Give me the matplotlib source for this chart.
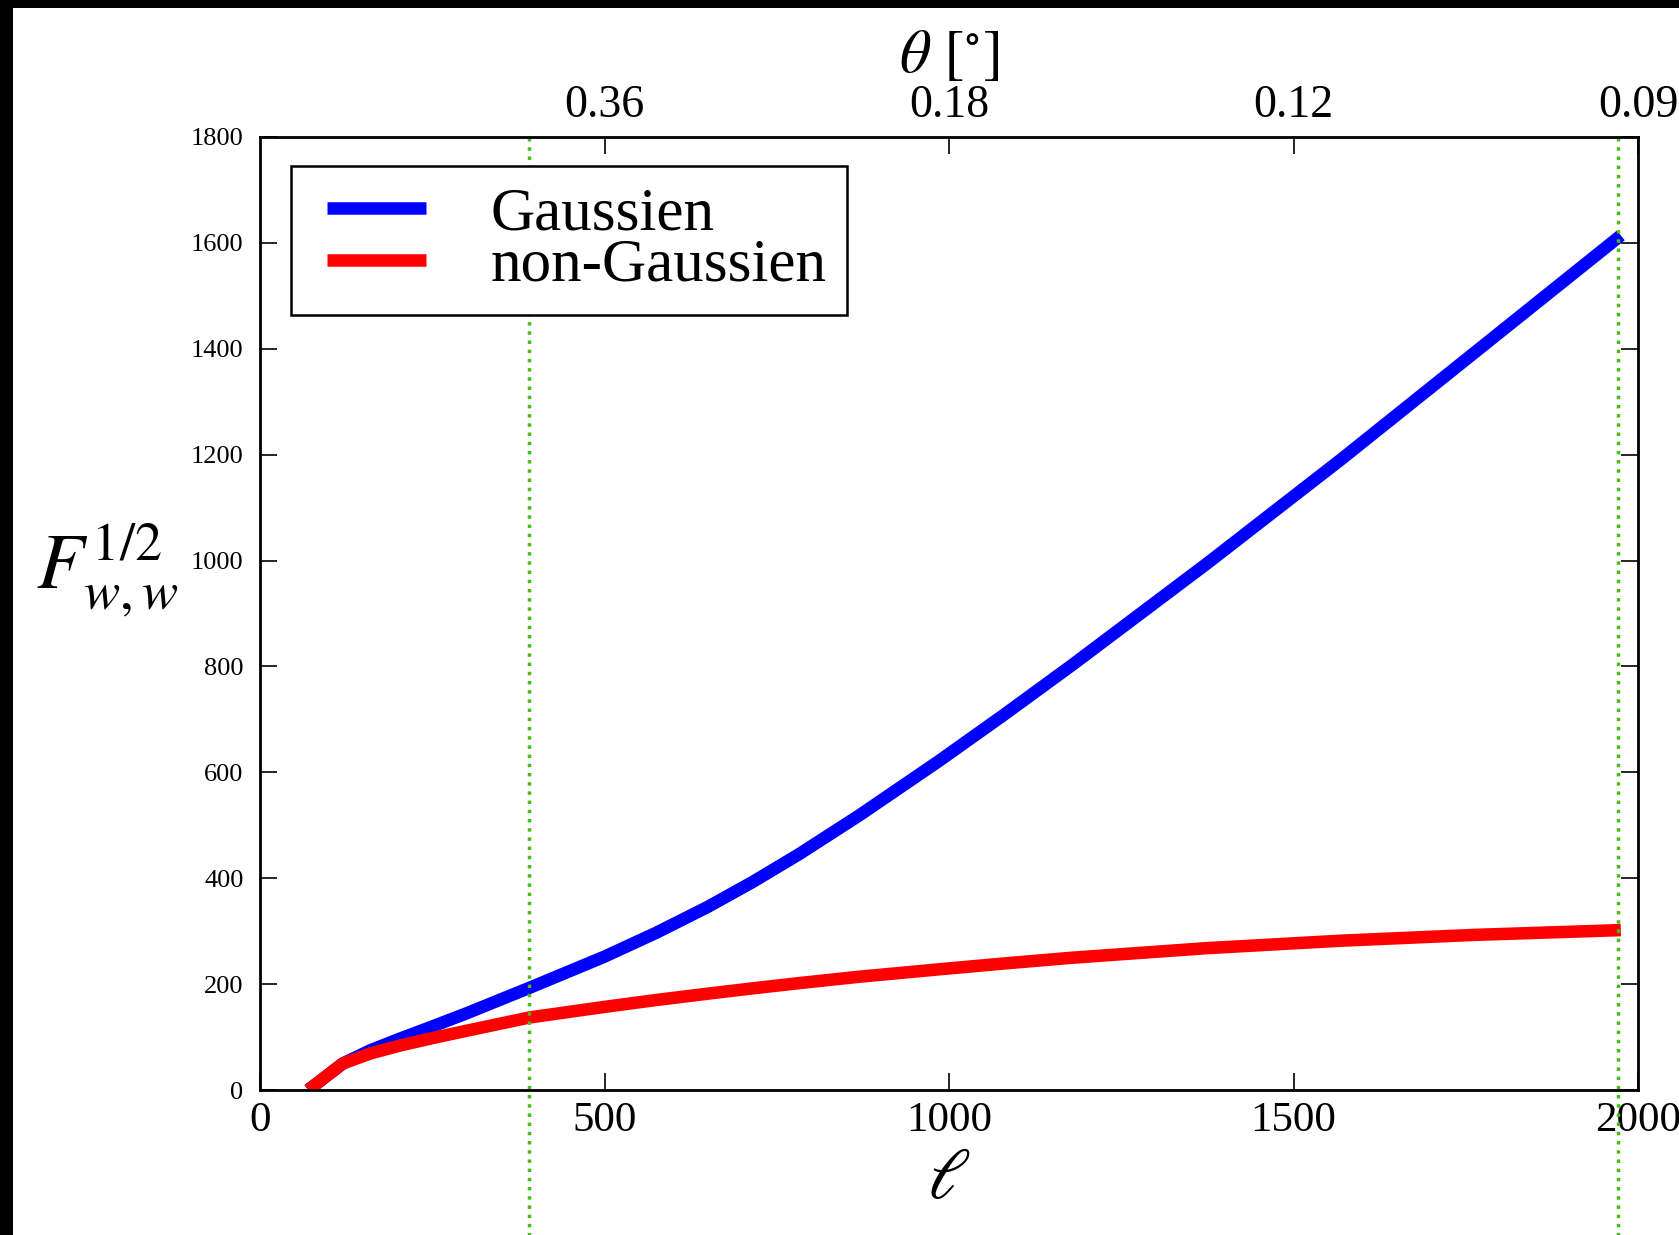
"""
Fisher information F^{1/2}_{w,w} against multipole, Gaussian vs non-Gaussian.
"""

import matplotlib
matplotlib.use("Agg")
import matplotlib.pyplot as plt
from matplotlib.patches import Rectangle
from matplotlib.legend_handler import HandlerLine2D

ell = [70, 120, 160, 203, 250, 300, 391, 500, 575, 650, 715, 783, 870, 986, 1080,
       1180, 1375, 1569, 1763, 1975]
F_gauss = [0, 50, 75, 97, 120, 145, 193, 252, 297, 346, 393, 446, 519, 622, 709,
           804, 995, 1191, 1393, 1614]
F_nongauss = [0, 50, 69, 84, 98, 112, 137, 157, 170, 182, 192, 202, 214, 228, 239,
              250, 268, 282, 293, 302]

labels = ["Gaussien", "non-Gaussien"]
colors = ["#0000ff", "#ff0000"]

# survey limits (green dotted lines)
ell_limits = [391, 1971]

# top axis: angular scale
theta_ticks_ell = [500, 1000, 1500, 2000]
theta_labels = ["0.36", "0.18", "0.12", "0.09"]

x_ticks = [0, 500, 1000, 1500, 2000]
y_ticks = [0, 200, 400, 600, 800, 1000, 1200, 1400, 1600, 1800]


def main():
    plt.rcParams["font.family"] = ["Liberation Serif", "DejaVu Serif"]
    plt.rcParams["mathtext.fontset"] = "stix"

    fig = plt.figure(figsize=(16.79, 12.35), dpi=100)
    ax = fig.add_axes([0.1549, 0.1174, 0.8207, 0.7717])

    # black border of the scanned figure
    fig.patches.append(Rectangle((0, 1 - 8 / 1235), 1, 8 / 1235, transform=fig.transFigure,
                                 facecolor="black", edgecolor="none", zorder=10))
    fig.patches.append(Rectangle((0, 0), 13 / 1679, 1, transform=fig.transFigure,
                                 facecolor="black", edgecolor="none", zorder=10))

    ax.plot(ell, F_gauss, color=colors[0], lw=9, solid_capstyle="butt", label=labels[0])
    ax.plot(ell, F_nongauss, color=colors[1], lw=9, solid_capstyle="butt", label=labels[1])

    for l in ell_limits:
        ax.axvline(l, ymin=-0.16, ymax=1, color="#4cbb17", ls=":", lw=2.5, clip_on=False)

    ax.set_xlim(0, 2000)
    ax.set_ylim(0, 1800)
    ax.set_xticks(x_ticks)
    ax.set_yticks(y_ticks)
    ax.tick_params(axis="x", labelsize=31, direction="in", length=12, width=1.2, pad=8)
    ax.tick_params(axis="y", labelsize=19, direction="in", length=12, width=1.2, pad=12,
                   right=True)
    for s in ax.spines.values():
        s.set_linewidth(2)

    ax.set_xlabel(r"$\ell$", fontsize=52, labelpad=6)
    ax.set_ylabel(r"$F^{1/2}_{w,w}$", fontsize=56, rotation=0, labelpad=0)
    ax.yaxis.label.set_va("center")
    ax.yaxis.set_label_coords(-0.111, 0.545)

    top = ax.twiny()
    top.set_xlim(ax.get_xlim())
    top.set_xticks(theta_ticks_ell)
    top.set_xticklabels(theta_labels)
    top.tick_params(axis="x", labelsize=33, direction="in", length=12, width=1.2, pad=7)
    top.set_xlabel(r"$\theta\ [^{\circ}]$", fontsize=44, labelpad=9)

    leg = ax.legend(loc="upper left", bbox_to_anchor=(0.0225, 0.9696), borderaxespad=0,
                    fontsize=44, handlelength=1.87, handletextpad=1.05, borderpad=0.34,
                    labelspacing=-0.07, fancybox=False, framealpha=1,
                    handler_map={plt.Line2D: HandlerLine2D(xpad=0.24)})
    leg.get_frame().set_edgecolor("black")
    leg.get_frame().set_linewidth(1.8)

    fig.savefig("out.png", dpi=100)


if __name__ == "__main__":
    main()
